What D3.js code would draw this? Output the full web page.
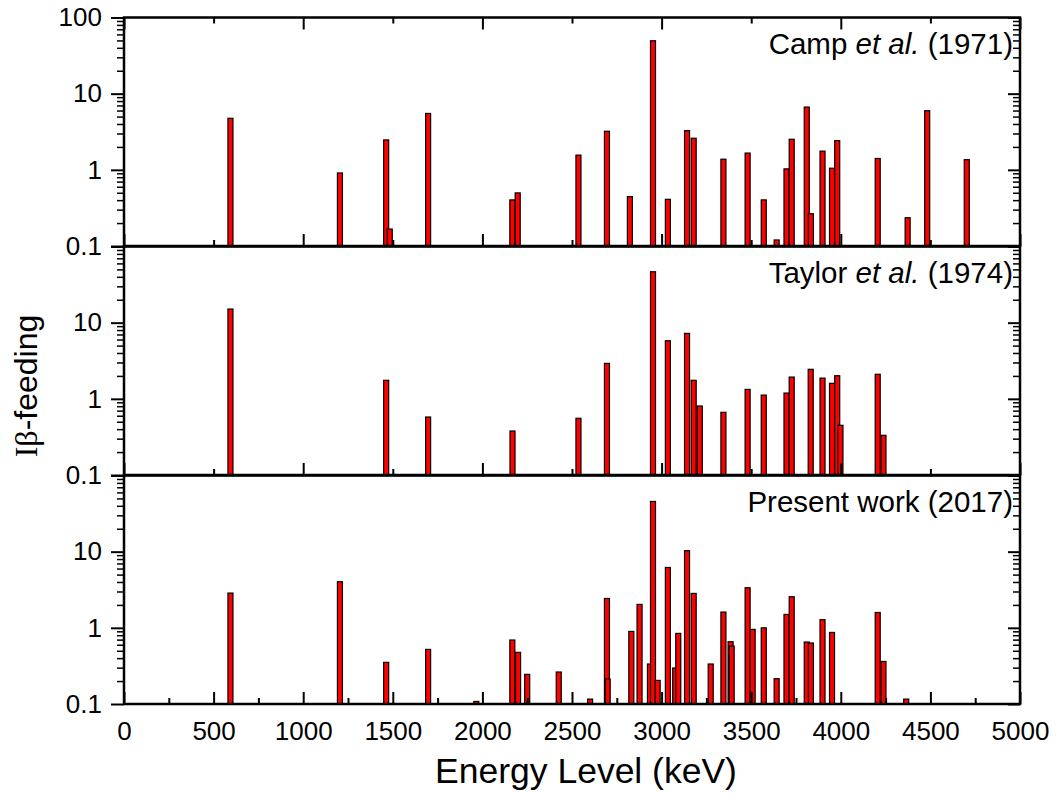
<!DOCTYPE html>
<html>
<head>
<meta charset="utf-8">
<script src="https://cdn.jsdelivr.net/npm/d3@7"></script>
<style>
  html, body { margin: 0; padding: 0; background: #fff; }
  svg { display: block; }
  text { font-family: "Liberation Sans", Arial, sans-serif; fill: #000; }
</style>
</head>
<body>
<svg id="chart" width="1058" height="794"></svg>
<script>
// ---------------- data ----------------
const campE   = [594,1205,1463,1483,1697,2167,2197,2536,2695,2823,2952,3035,3142,3179,3345,3480,3570,3642,3697,3726,3810,3833,3898,3951,3980,4206,4373,4482,4703];
const campV   = [4.75,0.91,2.47,0.167,5.5,0.403,0.498,1.56,3.21,0.445,49.5,0.41,3.27,2.6,1.38,1.66,0.403,0.12,1.03,2.52,6.67,0.265,1.76,1.05,2.42,1.41,0.235,5.97,1.36];

const taylorE = [594,1463,1697,2168,2536,2695,2952,3035,3142,3179,3213,3345,3480,3570,3697,3726,3832,3898,3951,3980,3998,4206,4238];
const taylorV = [15.1,1.75,0.577,0.378,0.555,2.92,46.6,5.79,7.23,1.75,0.805,0.665,1.33,1.12,1.19,1.93,2.44,1.87,1.6,2.01,0.449,2.1,0.332];

const presentE = [594,1205,1463,1697,1966,2167,2199,2250,2426,2601,2695,2699,2831,2877,2935,2952,2978,3035,3076,3093,3142,3179,3274,3345,3385,3391,3480,3508,3570,3642,3697,3726,3810,3833,3898,3951,4206,4238,4365];
const presentV = [2.86,4.03,0.352,0.521,0.108,0.692,0.476,0.245,0.263,0.116,2.43,0.213,0.897,2.03,0.335,45.6,0.204,6.2,0.297,0.845,10.3,2.83,0.335,1.61,0.657,0.577,3.36,0.953,1.0,0.215,1.5,2.56,0.651,0.632,1.28,0.87,1.59,0.362,0.116];

const panelTitles = ["Camp", "Taylor", "Present work (2017)"];
const yTickLabels = [[0.1, 1, 10, 100], [0.1, 1, 10], [0.1, 1, 10]];
const xTickLabels = [0, 500, 1000, 1500, 2000, 2500, 3000, 3500, 4000, 4500, 5000];
const xTitle = "Energy Level (keV)";

// ---------------- layout ----------------
const svg = d3.select("#chart");
const left = 124, right = 1020;
const panelTop = [17.5, 246.5, 475.5];
const panelH = 228.5;
const barHalf = 14; // keV

const x = d3.scaleLinear().domain([0, 5000]).range([left, right]);

const series = [
  {E: campE, V: campV},
  {E: taylorE, V: taylorV},
  {E: presentE, V: presentV}
];

const minorY = [];
[0.1, 1, 10].forEach(d => { for (let k = 2; k <= 9; k++) minorY.push(+(d * k).toPrecision(3)); });
const majorY = [0.1, 1, 10, 100];
const fmtY = d => d < 1 ? "0.1" : String(d);

series.forEach((s, i) => {
  const top = panelTop[i], bot = top + panelH;
  const y = d3.scaleLog().domain([0.1, 100]).range([bot, top]);
  const g = svg.append("g");

  // bars
  const data = s.E.map((e, j) => ({e, v: s.V[j]}));
  g.selectAll("rect.bar").data(data).join("rect")
    .attr("class", "bar")
    .attr("x", d => x(d.e - barHalf))
    .attr("width", d => x(d.e + barHalf) - x(d.e - barHalf))
    .attr("y", d => y(d.v))
    .attr("height", d => y(0.1) - y(d.v))
    .attr("fill", "#ff0000")
    .attr("stroke", "#000")
    .attr("stroke-width", 1.2);

  const styleAxis = (sel, sw) => {
    sel.select(".domain").remove();
    sel.selectAll(".tick line").attr("stroke", "#000").attr("stroke-width", sw);
  };

  // left axis: outward ticks
  const la = g.append("g").attr("transform", `translate(${left},0)`)
    .call(d3.axisLeft(y).tickValues(majorY).tickSize(13).tickPadding(9)
      .tickFormat(d => yTickLabels[i].includes(d) ? fmtY(d) : ""));
  styleAxis(la, 2);
  la.selectAll("text").attr("font-size", 26).attr("font-family", "Liberation Sans, Arial, sans-serif");
  const lam = g.append("g").attr("transform", `translate(${left},0)`)
    .call(d3.axisLeft(y).tickValues(minorY).tickSize(7).tickFormat(""));
  styleAxis(lam, 1.5);

  // right axis: inward ticks
  const ra = g.append("g").attr("transform", `translate(${right},0)`)
    .call(d3.axisRight(y).tickValues(majorY).tickSize(-12).tickFormat(""));
  styleAxis(ra, 2);
  const ram = g.append("g").attr("transform", `translate(${right},0)`)
    .call(d3.axisRight(y).tickValues(minorY).tickSize(-7).tickFormat(""));
  styleAxis(ram, 1.5);

  // bottom axis: inward ticks
  const step = i === 2 ? 500 : 1000;
  const majX = d3.range(0, 5001, step);
  const minX = d3.range(step / 2, 5000, step);
  const ba = g.append("g").attr("transform", `translate(0,${bot})`)
    .call(d3.axisBottom(x).tickValues(majX).tickSize(-12).tickPadding(17.5)
      .tickFormat(d => i === 2 && xTickLabels.includes(d) ? String(d) : ""));
  styleAxis(ba, 2);
  ba.selectAll("text").attr("font-size", 26).attr("font-family", "Liberation Sans, Arial, sans-serif");
  const bam = g.append("g").attr("transform", `translate(0,${bot})`)
    .call(d3.axisBottom(x).tickValues(minX).tickSize(-6).tickFormat(""));
  styleAxis(bam, 2);

  if (i === 0) {
    const ta = g.append("g").attr("transform", `translate(0,${top})`)
      .call(d3.axisTop(x).tickValues(majX).tickSize(-12).tickFormat(""));
    styleAxis(ta, 2);
    const tam = g.append("g").attr("transform", `translate(0,${top})`)
      .call(d3.axisTop(x).tickValues(minX).tickSize(-6).tickFormat(""));
    styleAxis(tam, 2);
  }

  // frame
  g.append("rect").attr("x", left).attr("y", top).attr("width", right - left).attr("height", panelH)
    .attr("fill", "none").attr("stroke", "#000").attr("stroke-width", 2.5);

  // panel title
  const t = g.append("text").attr("x", 1013).attr("y", top + 36)
    .attr("text-anchor", "end").attr("font-size", 29.5);
  if (i === 0) {
    t.append("tspan").text("Camp ");
    t.append("tspan").attr("font-style", "italic").text("et al.");
    t.append("tspan").text(" (1971)");
  } else if (i === 1) {
    t.append("tspan").text("Taylor ");
    t.append("tspan").attr("font-style", "italic").text("et al.");
    t.append("tspan").text(" (1974)");
  } else {
    t.text(panelTitles[2]);
  }
});

// axis titles
svg.append("text").attr("x", 586).attr("y", 783).attr("text-anchor", "middle")
  .attr("font-size", 35.5).text(xTitle);

const yl = svg.append("text")
  .attr("transform", "translate(37,386) rotate(-90)")
  .attr("text-anchor", "middle").attr("font-size", 32);
yl.append("tspan").attr("font-family", "Liberation Serif, Times New Roman, serif").text("Iβ");
yl.append("tspan").text("-feeding");
</script>
</body>
</html>
